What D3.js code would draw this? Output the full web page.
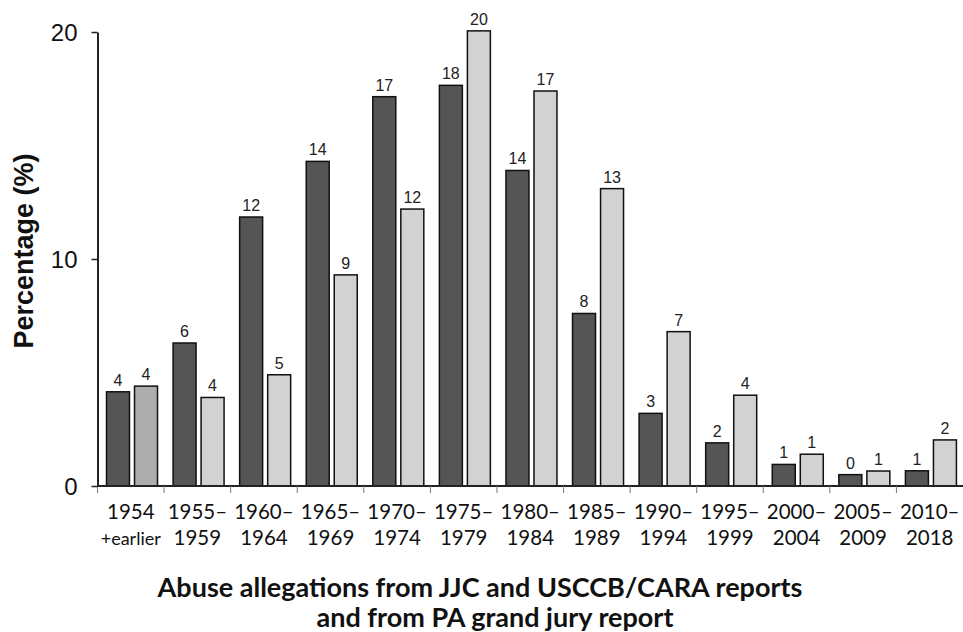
<!DOCTYPE html>
<html><head><meta charset="utf-8">
<script src="https://cdn.jsdelivr.net/npm/d3@7"></script>
<style>body{margin:0;background:#fff}svg{display:block}</style>
</head><body>
<svg id="c" width="963" height="632"></svg>
<script>
const categories = ["1954|+earlier","1955–|1959","1960–|1964","1965–|1969","1970–|1974","1975–|1979","1980–|1984","1985–|1989","1990–|1994","1995–|1999","2000–|2004","2005–|2009","2010–|2018"];
const jjcValues = [4.15,6.3,11.85,14.3,17.15,17.65,13.9,7.6,3.2,1.9,0.95,0.5,0.67];
const paValues  = [4.4,3.9,4.9,9.3,12.2,20.05,17.4,13.1,6.8,4.0,1.4,0.66,2.03];
const jjcLabels = [4,6,12,14,17,18,14,8,3,2,1,0,1];
const paLabels  = [4,4,5,9,12,20,17,13,7,4,1,1,2];
const yTicks = [0,10,20];
const series = ["jjc","pa"];

const svg = d3.select("#c");
const x = d3.scaleBand().domain(categories).range([97.5, 963]).padding(0);
const sub = d3.scaleBand().domain(series).range([9, 60]).paddingInner(0.18).paddingOuter(0);
const y = d3.scaleLinear().domain([0,20]).range([486, 32]);

const rows = categories.map((c,i)=>({c, i, vals:[
  {s:"jjc", v:jjcValues[i], l:jjcLabels[i]},
  {s:"pa", v:paValues[i], l:paLabels[i]}]}));

const g = svg.selectAll("g.cat").data(rows).join("g")
  .attr("transform", d=>`translate(${x(d.c)},0)`);
g.selectAll("rect").data(d=>d.vals.map(v=>({...v, i:d.i}))).join("rect")
  .attr("x", d=>sub(d.s)).attr("width", sub.bandwidth())
  .attr("y", d=>y(d.v)).attr("height", d=>y(0)-y(d.v))
  .attr("fill", d=>d.s==="jjc" ? "#555555" : (d.i===0 ? "#adadad" : "#d2d2d2"))
  .attr("stroke", "#111").attr("stroke-width", 1.5);
g.selectAll("text.v").data(d=>d.vals).join("text").attr("class","v")
  .attr("x", d=>sub(d.s)+sub.bandwidth()/2).attr("y", d=>y(d.v)-6)
  .attr("text-anchor","middle").attr("font-family","Liberation Sans, Arial, sans-serif")
  .attr("font-size", 16).attr("fill","#222").text(d=>d.l);

// x axis
const xAxis = svg.append("g").attr("transform", `translate(0,${y(0)})`);
xAxis.append("line").attr("x1", 97.5).attr("x2", 963).attr("y1",0).attr("y2",0)
  .attr("stroke","#222").attr("stroke-width",2);
xAxis.selectAll("line.t").data(categories).join("line").attr("class","t")
  .attr("x1", d=>x(d)).attr("x2", d=>x(d)).attr("y1",0).attr("y2",7)
  .attr("stroke","#777").attr("stroke-width",1);
const xl = svg.selectAll("text.xl").data(categories).join("text").attr("class","xl")
  .attr("text-anchor","middle").attr("font-family","Lato, sans-serif")
  .attr("font-size", 20.5).attr("fill","#111");
xl.each(function(d){
  const parts = d.split("|");
  const t = d3.select(this);
  const cx = x(d) + x.bandwidth()/2;
  t.append("tspan").attr("x", cx).attr("y", 519).text(parts[0]);
  t.append("tspan").attr("x", cx).attr("y", 545)
   .attr("font-size", parts[1]==="+earlier" ? 18 : 20.5).text(parts[1]);
});

// y axis
const yAxis = svg.append("g").attr("transform","translate(97.5,0)")
  .call(d3.axisLeft(y).tickValues(yTicks).tickSize(6).tickSizeOuter(0).tickPadding(14));
yAxis.select(".domain").attr("stroke","#222").attr("stroke-width",2);
yAxis.selectAll(".tick line").attr("stroke","#222").attr("stroke-width",1.5);
yAxis.selectAll(".tick text").attr("font-family","Liberation Sans, Arial, sans-serif")
  .attr("font-size",24).attr("fill","#111").attr("dy","0.35em");

svg.append("text").attr("transform","translate(33,251) rotate(-90)")
  .attr("text-anchor","middle").attr("font-family","Liberation Sans, Arial, sans-serif")
  .attr("font-weight","bold").attr("font-size",27).attr("fill","#111").text("Percentage (%)");

svg.append("text").attr("x",480).attr("y",597).attr("text-anchor","middle")
  .attr("font-family","Lato, sans-serif").attr("font-weight","bold")
  .attr("font-size",27).attr("fill","#111").text("Abuse allegations from JJC and USCCB/CARA reports");
svg.append("text").attr("x",495).attr("y",627).attr("text-anchor","middle")
  .attr("font-family","Lato, sans-serif").attr("font-weight","bold")
  .attr("font-size",27).attr("fill","#111").text("and from PA grand jury report");
</script>
</body></html>
